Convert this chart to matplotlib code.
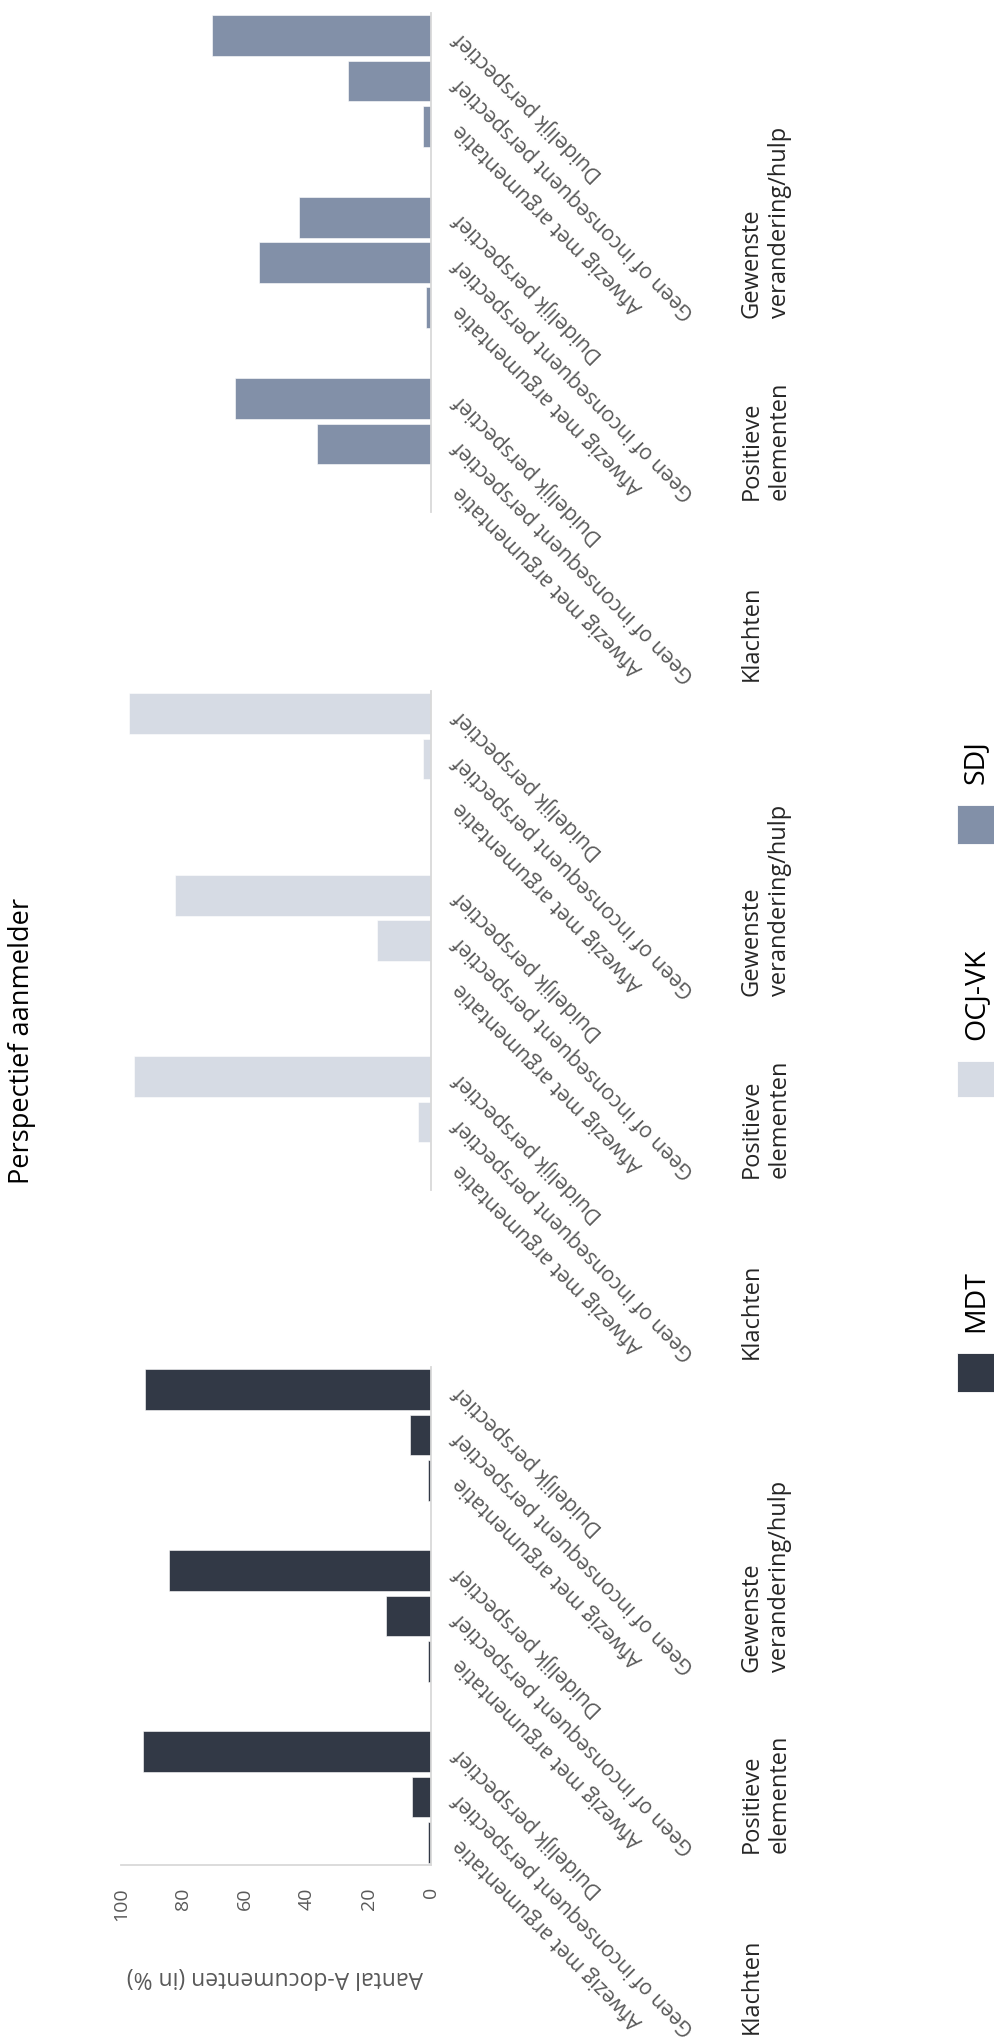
import matplotlib
matplotlib.use("Agg")
import matplotlib.pyplot as plt
import matplotlib.transforms as mtransforms
from matplotlib.patches import Rectangle

plt.rcParams['font.family'] = ['Open Sans', 'DejaVu Sans']

# categories and values (percentages)
groups = ['Klachten', 'Positieve\nelementen', 'Gewenste\nverandering/hulp']
subcats = ['Afwezig met argumentatie', 'Geen of inconsequent perspectief', 'Duidelijk perspectief']
series = ['MDT', 'OCJ-VK', 'SDJ']
mdt = [[0.9, 6.1, 93.0], [0.9, 14.6, 84.5], [0.9, 6.8, 92.3]]
ocj_vk = [[0.0, 4.3, 95.7], [0.0, 17.5, 82.5], [0.0, 2.7, 97.3]]
sdj = [[0.0, 36.8, 63.2], [1.7, 55.6, 42.7], [2.7, 26.7, 70.6]]
xticks = [0, 20, 40, 60, 80, 100]

colors = {'MDT': '#323946', 'OCJ-VK': '#D6DBE4', 'SDJ': '#8290A8'}
data = {'MDT': mdt, 'OCJ-VK': ocj_vk, 'SDJ': sdj}

W, H = 995, 2037
fig = plt.figure(figsize=(W / 100, H / 100), dpi=100)

def fx(px):
    return px / W

def fy(px):
    return 1 - px / H

# panel extents in pixels (top, bottom)
panels = {'SDJ': (13, 512), 'OCJ-VK': (691, 1190), 'MDT': (1367, 1865)}
left_px, right_px = 121, 431
label_gap = 237 / 45.3  # outer label offset in slot units

for name in series:
    top, bot = panels[name]
    ax = fig.add_axes([fx(left_px), fy(bot), fx(right_px - left_px), (bot - top) / H])
    ypos, vals, subidx = [], [], []
    for g in range(3):
        for s in range(3):
            ypos.append(g * 4 + s)
            vals.append(data[name][g][s])
            subidx.append(s)
    ax.barh(ypos, vals, height=0.9, color=colors[name], edgecolor='white', linewidth=0.4)
    ax.set_xlim(100, 0)
    ax.set_ylim(-0.5, 10.5)
    ax.set_yticks([])
    for sp in ['top', 'left', 'bottom', 'right']:
        ax.spines[sp].set_visible(False)
    ax.spines['right'].set_visible(True)
    ax.spines['right'].set_color('#D9D9D9')
    ax.spines['right'].set_linewidth(1.3)
    if name == 'MDT':
        ax.spines['bottom'].set_visible(True)
        ax.spines['bottom'].set_color('#D9D9D9')
        ax.spines['bottom'].set_linewidth(1.3)
        ax.set_xticks(xticks)
        ax.set_xticklabels([str(t) for t in xticks], rotation=90, color='#595959', fontsize=14)
        ax.tick_params(axis='x', length=0, pad=16)
    else:
        ax.set_xticks([])

    # inner category labels
    for y, s in zip(ypos, subidx):
        ax.annotate(subcats[s], xy=(0, y), xycoords='data', xytext=(19, 0),
                    textcoords='offset points', rotation=135, rotation_mode='anchor',
                    ha='right', va='center', color='#595959', fontsize=15.2,
                    annotation_clip=False)

    # outer category labels
    trans = mtransforms.blended_transform_factory(fig.transFigure, ax.transData)
    for g in range(3):
        ax.text(fx(740), g * 4 + 1 - label_gap, groups[g], transform=trans,
                rotation=90, ha='left', va='bottom', multialignment='left',
                color='#262626', fontsize=17)

fig.text(fx(275), fy(1977), 'Aantal A-documenten (in %)', rotation=180,
         ha='center', va='center', color='#595959', fontsize=16.5)

fig.text(fx(22), fy(1041), 'Perspectief aanmelder', rotation=90,
         ha='center', va='center', color='black', fontsize=19.5)

# legend
legend_pos = {'SDJ': (805, 844), 'OCJ-VK': (1061, 1097), 'MDT': (1353, 1392)}
for name in series:
    t, b = legend_pos[name]
    fig.patches.append(Rectangle((fx(957), fy(b)), fx(38), (b - t) / H,
                                 transform=fig.transFigure, facecolor=colors[name],
                                 edgecolor='white', linewidth=0.6))
    fig.text(fx(976), fy(t - 21), name, rotation=90, ha='center', va='bottom',
             color='black', fontsize=20.5)

fig.savefig('out.png', dpi=100, facecolor='white')
